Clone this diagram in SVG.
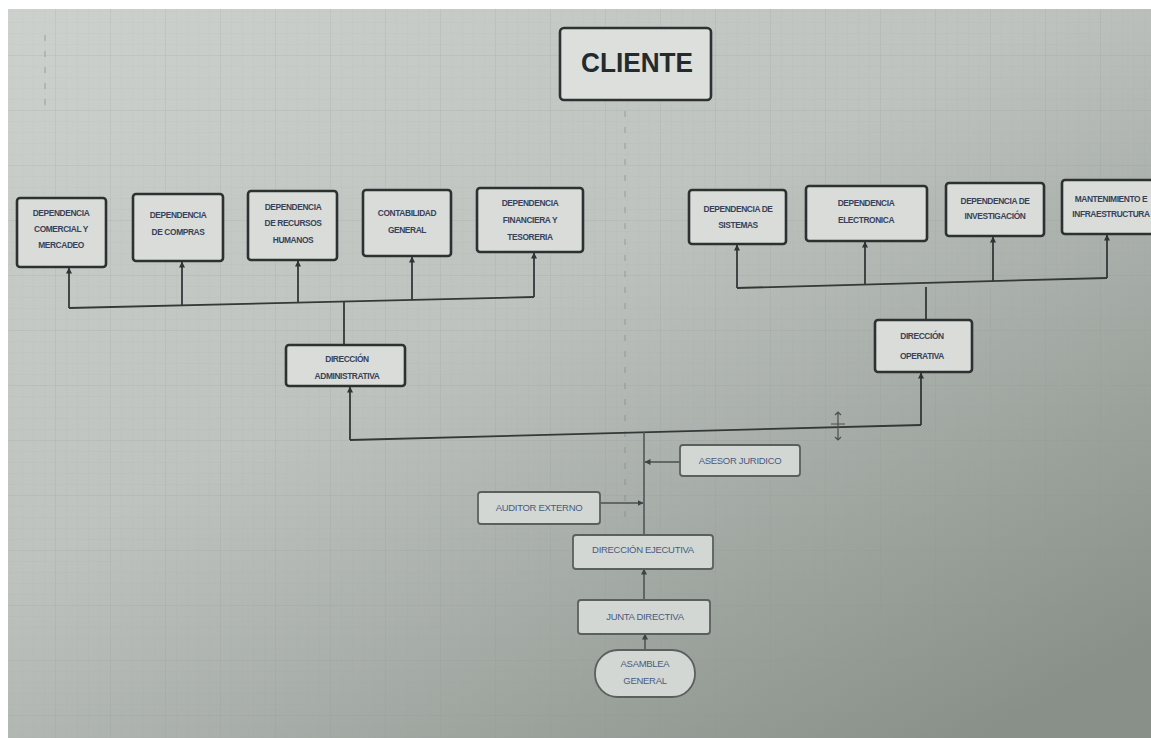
<svg xmlns="http://www.w3.org/2000/svg" width="1151" height="738" viewBox="0 0 1151 738">
<defs>
<linearGradient id="bg" x1="0" y1="0" x2="0.85" y2="1">
<stop offset="0" stop-color="#cdd1ce"/>
<stop offset="0.45" stop-color="#bec3bf"/>
<stop offset="1" stop-color="#889089"/>
</linearGradient>
<pattern id="gMinor" width="11" height="11" patternUnits="userSpaceOnUse">
<path d="M11,0 L0,0 0,11" fill="none" stroke="#8e9590" stroke-width="0.6" opacity="0.18"/>
</pattern>
<pattern id="gMajor" width="55" height="55" patternUnits="userSpaceOnUse">
<path d="M55,0 L0,0 0,55" fill="none" stroke="#848b86" stroke-width="1" opacity="0.22"/>
</pattern>
<marker id="arr" viewBox="0 0 6 6" refX="5.5" refY="3" markerWidth="6" markerHeight="6" markerUnits="userSpaceOnUse" orient="auto">
<path d="M0,0 L6,3 L0,6 z" fill="#2f3434"/>
</marker>
<marker id="arrL" viewBox="0 0 6 6" refX="5.5" refY="3" markerWidth="6" markerHeight="6" markerUnits="userSpaceOnUse" orient="auto">
<path d="M0,0 L6,3 L0,6 z" fill="#3e4444"/>
</marker>
</defs>
<style>
.box{fill:#d9dcd9;stroke:#2c3131;stroke-width:2.6}
.boxL{fill:#d3d7d4;stroke:#5a605e;stroke-width:1.8}
.t{font-family:"Liberation Sans",Arial,sans-serif;font-size:8.4px;font-weight:bold;fill:#38425a;text-anchor:middle;letter-spacing:-0.4px}
.tL{font-family:"Liberation Sans",Arial,sans-serif;font-size:9.5px;fill:#4a5a7e;text-anchor:middle;letter-spacing:-0.3px}
.ln{fill:none;stroke:#333838;stroke-width:1.8}
.lnL{fill:none;stroke:#4a5050;stroke-width:1.5}
</style>
<rect width="1151" height="738" fill="#ffffff"/>
<rect x="8" y="9" width="1143" height="729" fill="url(#bg)"/>
<rect x="8" y="9" width="1143" height="729" fill="url(#gMinor)"/>
<rect x="8" y="9" width="1143" height="729" fill="url(#gMajor)"/>
<path d="M625,95 L625,520 M45,35 L45,110" stroke="#7d837f" stroke-width="1.2" stroke-dasharray="6,10" opacity="0.5"/>

<g id="connectors">
<path class="ln" d="M69,308 L534,297"/>
<path class="ln" d="M69,308 L69,268" marker-end="url(#arr)"/>
<path class="ln" d="M182,305 L182,262" marker-end="url(#arr)"/>
<path class="ln" d="M298,303 L298,261" marker-end="url(#arr)"/>
<path class="ln" d="M412,300 L412,257" marker-end="url(#arr)"/>
<path class="ln" d="M534,297 L534,253" marker-end="url(#arr)"/>
<path class="ln" d="M344,302 L344,345"/>
<path class="ln" d="M737,288 L1107,278"/>
<path class="ln" d="M737,288 L737,245" marker-end="url(#arr)"/>
<path class="ln" d="M865,285 L865,242" marker-end="url(#arr)"/>
<path class="ln" d="M993,281 L993,237" marker-end="url(#arr)"/>
<path class="ln" d="M1107,278 L1107,235" marker-end="url(#arr)"/>
<path class="ln" d="M926,287 L926,320"/>
<path class="ln" d="M350,440 L921,425"/>
<path class="ln" d="M350,440 L350,387" marker-end="url(#arr)"/>
<path class="ln" d="M921,425 L921,373" marker-end="url(#arr)"/>
<path class="lnL" d="M644,432 L644,535"/>
<path class="lnL" d="M680,462 L645,462" marker-end="url(#arrL)"/>
<path class="lnL" d="M600,503 L643,503" marker-end="url(#arrL)"/>
<path class="lnL" d="M644,600 L644,569" marker-end="url(#arrL)"/>
<path class="lnL" d="M645,650 L645,634" marker-end="url(#arrL)"/>
</g>
<path d="M838,412 L838,440 M831,424 L845,424 M835,415 L838,412 L841,415 M835,437 L838,440 L841,437" fill="none" stroke="#4a4f4f" stroke-width="1.2"/>

<g id="cliente">
<rect x="560" y="28" width="151" height="72" rx="4" fill="#dcdfdc" stroke="#2c3131" stroke-width="2.6"/>
<text x="637" y="72" font-family="Liberation Sans,Arial,sans-serif" font-size="28" font-weight="bold" fill="#252a2c" text-anchor="middle" textLength="112" lengthAdjust="spacingAndGlyphs">CLIENTE</text>
</g>

<g id="dep-comercial">
<rect class="box" x="17" y="198" width="89" height="69" rx="3"/>
<text class="t" x="61" y="216">DEPENDENCIA</text>
<text class="t" x="61" y="232">COMERCIAL Y</text>
<text class="t" x="61" y="248">MERCADEO</text>
</g>
<g id="dep-compras">
<rect class="box" x="133" y="194" width="90" height="67" rx="3"/>
<text class="t" x="178" y="218">DEPENDENCIA</text>
<text class="t" x="178" y="235">DE COMPRAS</text>
</g>
<g id="dep-rrhh">
<rect class="box" x="248" y="191" width="89" height="69" rx="3"/>
<text class="t" x="293" y="210">DEPENDENCIA</text>
<text class="t" x="293" y="226">DE RECURSOS</text>
<text class="t" x="293" y="243">HUMANOS</text>
</g>
<g id="contabilidad">
<rect class="box" x="363" y="190" width="88" height="66" rx="3"/>
<text class="t" x="407" y="216">CONTABILIDAD</text>
<text class="t" x="407" y="233">GENERAL</text>
</g>
<g id="dep-financiera">
<rect class="box" x="477" y="188" width="106" height="64" rx="3"/>
<text class="t" x="530" y="206">DEPENDENCIA</text>
<text class="t" x="530" y="223">FINANCIERA Y</text>
<text class="t" x="530" y="240">TESORERIA</text>
</g>

<g id="dep-sistemas">
<rect class="box" x="689" y="190" width="97" height="54" rx="3"/>
<text class="t" x="738" y="212">DEPENDENCIA DE</text>
<text class="t" x="738" y="228">SISTEMAS</text>
</g>
<g id="dep-electronica">
<rect class="box" x="806" y="186" width="121" height="55" rx="3"/>
<text class="t" x="866" y="206">DEPENDENCIA</text>
<text class="t" x="866" y="223">ELECTRONICA</text>
</g>
<g id="dep-investigacion">
<rect class="box" x="946" y="183" width="98" height="53" rx="3"/>
<text class="t" x="995" y="204">DEPENDENCIA DE</text>
<text class="t" x="995" y="219">INVESTIGACIÓN</text>
</g>
<g id="mantenimiento">
<rect class="box" x="1062" y="180" width="100" height="54" rx="3"/>
<text class="t" x="1111" y="202">MANTENIMIENTO E</text>
<text class="t" x="1111" y="217">INFRAESTRUCTURA</text>
</g>

<g id="dir-administrativa">
<rect class="box" x="286" y="345" width="119" height="41" rx="3"/>
<text class="t" x="347" y="362">DIRECCIÓN</text>
<text class="t" x="347" y="379">ADMINISTRATIVA</text>
</g>
<g id="dir-operativa">
<rect class="box" x="875" y="320" width="97" height="52" rx="3"/>
<text class="t" x="922" y="339">DIRECCIÓN</text>
<text class="t" x="922" y="359">OPERATIVA</text>
</g>

<g id="asesor-juridico">
<rect class="boxL" x="680" y="445" width="120" height="31" rx="3"/>
<text class="tL" x="740" y="464">ASESOR JURIDICO</text>
</g>
<g id="auditor-externo">
<rect class="boxL" x="478" y="492" width="122" height="32" rx="3"/>
<text class="tL" x="539" y="511">AUDITOR EXTERNO</text>
</g>
<g id="dir-ejecutiva">
<rect class="boxL" x="573" y="535" width="140" height="34" rx="3"/>
<text class="tL" x="643" y="553">DIRECCIÓN EJECUTIVA</text>
</g>
<g id="junta-directiva">
<rect class="boxL" x="578" y="600" width="132" height="34" rx="3"/>
<text class="tL" x="645" y="620">JUNTA DIRECTIVA</text>
</g>
<g id="asamblea-general">
<rect class="boxL" x="595" y="650" width="100" height="47" rx="23"/>
<text class="tL" x="645" y="667">ASAMBLEA</text>
<text class="tL" x="645" y="684">GENERAL</text>
</g>
</svg>
